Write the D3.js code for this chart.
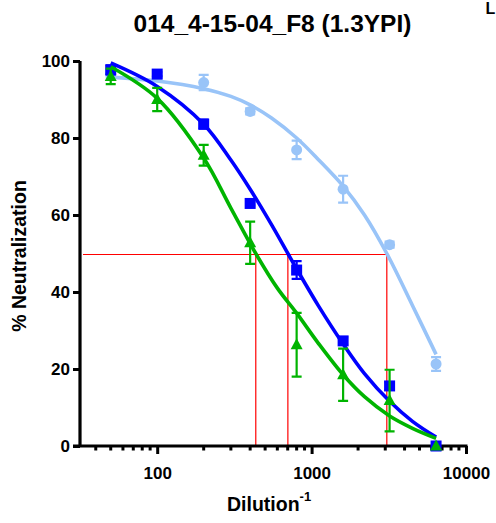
<!DOCTYPE html>
<html><head><meta charset="utf-8">
<script src="https://cdn.jsdelivr.net/npm/d3@7"></script>
<style>body{margin:0;background:#fff}svg{display:block}text{font-family:"Liberation Sans",Arial,sans-serif;font-weight:bold}</style>
</head><body>
<svg id="c" width="496" height="523"></svg>
<script>
// ---- data ----
const title = "014_4-15-04_F8 (1.3YPI)";
const dilutions = [50, 100, 200, 400, 800, 1600, 3200, 6400];
const lightMean = [96.5, 96, 94.4, 86.9, 76.9, 66.7, 52.3, 21.3];
const lightErr  = [1, 1, 2, 0.8, 2.4, 3.5, 0.8, 1.8];
const blueMean  = [97.7, 96.6, 83.6, 63, 45.7, 27.3, 15.6, 0];
const blueErr   = [1.2, 0.5, 1.2, 0.5, 2.3, 1, 1, 0];
const greenMean = [96, 90, 75.5, 52.8, 26.3, 18.5, 11.8, 0];
const greenErr  = [2, 3, 2.7, 5.5, 8.3, 6.8, 8, 0];
// fitted curves
const lightFitX = [50, 100, 200, 300, 400, 550, 800, 1100, 1600, 2200, 3070, 4500, 6400];
const lightFit  = [95.8, 94.8, 92.8, 90.8, 88.6, 85.2, 80, 74.5, 67.5, 60, 50, 36.5, 23.8];
const blueFitX  = [50, 100, 200, 300, 400, 550, 702, 800, 1100, 1600, 2200, 3200, 4500, 6400];
const blueFit   = [99.5, 93.4, 83.6, 74.3, 66.7, 57.5, 50, 46, 36.6, 26.5, 18.8, 11.6, 6.4, 2.3];
const greenFitX = [50, 100, 200, 300, 435, 600, 800, 1100, 1600, 2200, 3200, 4500, 6400];
const greenFit  = [98.5, 90.3, 74.8, 61.8, 50, 41, 34.5, 26.8, 18.5, 12.8, 7.8, 4.6, 2];
// IC50 dilutions (red guide lines)
const ic50 = [435, 702, 3070];
const yTicks = [0, 20, 40, 60, 80, 100];
const xTicks = [100, 1000, 10000];

const COL = {light: "#99C4F8", blue: "#0000FF", green: "#00B400", red: "#FF0000"};

const svg = d3.select("#c");
const x = d3.scaleLog().domain([Math.pow(10, 1.5), 10000]).range([80, 466]);
const y = d3.scaleLinear().domain([0, 100]).range([446, 61]);

// title
svg.append("text").attr("x", 272.5).attr("y", 32).attr("text-anchor", "middle")
  .attr("font-size", 24.5).text(title);
// neighbour panel letter (edge of next panel)
svg.append("text").attr("x", 485.5).attr("y", 14).attr("font-size", 16).text("L");

// red IC50 guide lines
const g = svg.append("g").attr("stroke", COL.red).attr("stroke-width", 1.2).attr("fill", "none");
const yh = Math.round(y(50)) + 0.5;
g.append("path").attr("d", `M83,${yh}H${x(d3.max(ic50))}`).attr("stroke", COL.red);
ic50.forEach(v => g.append("path").attr("d", `M${x(v)},${yh}V${y(0)}`).attr("stroke", COL.red));

// axes
const yAxis = d3.axisLeft(y).tickValues(yTicks).tickSize(7).tickPadding(3).tickFormat(d3.format("d"));
const ya = svg.append("g").attr("transform", "translate(80,0)").call(yAxis);
ya.select(".domain").attr("d", `M0,${y(100)}V${y(0)}`).attr("stroke-width", 3.2).attr("stroke", "#000");
ya.selectAll(".tick line").attr("stroke-width", 3).attr("stroke", "#000");
ya.selectAll(".tick text").attr("font-size", 17).attr("font-family", "Liberation Sans").attr("font-weight", "bold").attr("fill", "#000");

const minor = [];
[10, 100, 1000].forEach(b => { for (let k = 2; k <= 9; k++) { const v = b * k; if (v > Math.pow(10, 1.5) && v < 10000 && ![100,1000].includes(v)) minor.push(v); } });
const xa = svg.append("g").attr("transform", `translate(0,${y(0)})`);
xa.append("line").attr("x1", 73).attr("x2", 467.5).attr("y1", 0).attr("y2", 0).attr("stroke", "#000").attr("stroke-width", 3.2);
xa.selectAll(".mn").data(minor).join("line").attr("class", "mn")
  .attr("x1", d => x(d)).attr("x2", d => x(d)).attr("y1", 0).attr("y2", 4.5).attr("stroke", "#000").attr("stroke-width", 3);
const xAxis = d3.axisBottom(x).tickValues(xTicks).tickSize(8).tickPadding(13).tickFormat(d3.format("d"));
const xg = xa.append("g").call(xAxis);
xg.select(".domain").remove();
xg.selectAll(".tick line").attr("stroke-width", 3).attr("stroke", "#000");
xg.selectAll(".tick text").attr("font-size", 17).attr("font-family", "Liberation Sans").attr("font-weight", "bold").attr("fill", "#000");

// axis titles
svg.append("text").attr("transform", "translate(26,256) rotate(-90)").attr("text-anchor", "middle")
  .attr("font-size", 19.5).text("% Neutralization");
const xl = svg.append("text").attr("x", 227).attr("y", 511).attr("font-size", 19.5);
xl.append("tspan").text("Dilution");
xl.append("tspan").attr("font-size", 13).attr("dy", -10).text("-1");

// series
const series = [
  {mean: lightMean, err: lightErr, fx: lightFitX, fit: lightFit, col: COL.light, shape: "circle"},
  {mean: blueMean, err: blueErr, fx: blueFitX, fit: blueFit, col: COL.blue, shape: "square"},
  {mean: greenMean, err: greenErr, fx: greenFitX, fit: greenFit, col: COL.green, shape: "triangle"}
];
const line = d3.line().x(d => x(d[0])).y(d => y(d[1])).curve(d3.curveCatmullRom.alpha(0.5));

series.forEach(s => {
  const sg = svg.append("g");
  const pts = dilutions.map((d, i) => ({d, m: s.mean[i], e: s.err[i]}));
  pts.filter(p => p.e > 0).forEach(p => {
    const cx = x(p.d);
    sg.append("path").attr("d", `M${cx},${y(p.m + p.e)}V${y(p.m - p.e)}M${cx-5},${y(p.m + p.e)}H${cx+5}M${cx-5},${y(p.m - p.e)}H${cx+5}`)
      .attr("stroke", s.col).attr("stroke-width", 2.2).attr("fill", "none");
  });
  pts.forEach(p => {
    const cx = x(p.d), cy = y(p.m);
    if (s.shape === "circle") sg.append("circle").attr("cx", cx).attr("cy", cy).attr("r", 5.5).attr("fill", s.col);
    else if (s.shape === "square") sg.append("rect").attr("x", cx - 5.5).attr("y", cy - 5.5).attr("width", 11).attr("height", 11).attr("fill", s.col);
    else sg.append("path").attr("d", `M${cx},${cy-6.5}L${cx+6},${cy+4.5}L${cx-6},${cy+4.5}Z`).attr("fill", s.col);
  });
  sg.append("path").datum(s.fx.map((v, i) => [v, s.fit[i]])).attr("d", line)
    .attr("fill", "none").attr("stroke", s.col).attr("stroke-width", 3.6);
});
</script>
</body></html>
